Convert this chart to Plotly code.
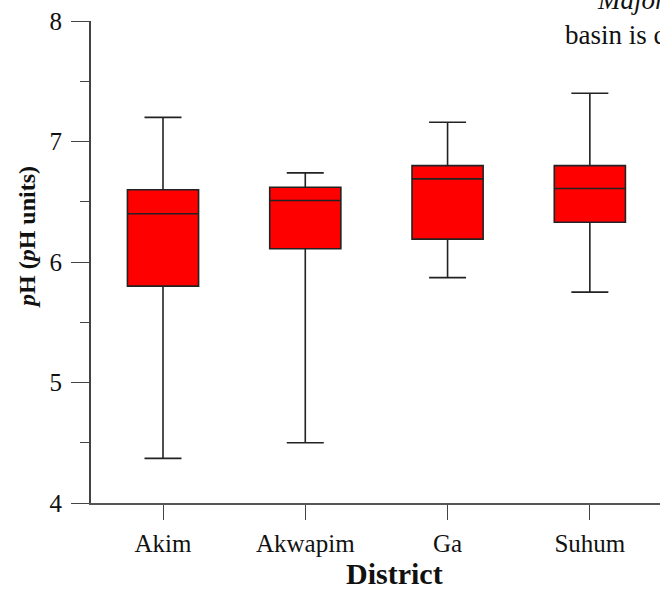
import plotly.graph_objects as go

districts = ["Akim", "Akwapim", "Ga", "Suhum"]
lower_whisker = [4.37, 4.50, 5.87, 5.75]
q1_vals = [5.80, 6.11, 6.19, 6.33]
median_vals = [6.40, 6.51, 6.69, 6.61]
q3_vals = [6.60, 6.62, 6.80, 6.80]
upper_whisker = [7.20, 6.74, 7.16, 7.40]
y_ticks = [4, 5, 6, 7, 8]

W, H = 660, 595
L, R, T, B = 91, 0, 21, 92
pw, ph = W - L - R, H - T - B

def px_x(px):
    return (px - L) / pw

def px_y(py):
    return (H - B - py) / ph

FONT = "Liberation Serif, Times New Roman, serif"

fig = go.Figure()
fig.add_trace(go.Box(
    x=districts,
    q1=q1_vals,
    median=median_vals,
    q3=q3_vals,
    lowerfence=lower_whisker,
    upperfence=upper_whisker,
    boxpoints=False,
    fillcolor="#ff0000",
    line=dict(color="#222222", width=1.6),
    width=0.5,
    whiskerwidth=0.52,
    showlegend=False,
    hoverinfo="skip",
))

fig.update_layout(
    width=W, height=H,
    margin=dict(l=L, r=R, t=T, b=B),
    paper_bgcolor="white",
    plot_bgcolor="white",
    font=dict(family=FONT, color="#111111"),
    xaxis=dict(
        type="category",
        range=[-0.506, 3.493],
        showgrid=False, zeroline=False,
        showline=True, linecolor="#555555", linewidth=1.5,
        ticks="outside", ticklen=15, tickcolor="#444444", tickwidth=1,
        tickfont=dict(family=FONT, size=25, color="#111111"),
        ticklabelstandoff=2,
    ),
    yaxis=dict(
        range=[4, 8],
        tickvals=y_ticks,
        ticktext=[str(v) for v in y_ticks],
        showgrid=False, zeroline=False,
        showline=True, linecolor="#444444", linewidth=2.2,
        ticks="outside", ticklen=18, tickcolor="#444444", tickwidth=1,
        minor=dict(dtick=0.5, ticks="outside", ticklen=9, tickcolor="#444444", tickwidth=1),
        tickfont=dict(family=FONT, size=25, color="#111111"),
        ticklabelstandoff=4,
    ),
    annotations=[
        dict(text="<b><i>p</i>H (<i>p</i>H units)</b>", textangle=-90,
             xref="paper", yref="paper", x=px_x(27), y=px_y(237),
             xanchor="center", yanchor="middle", showarrow=False,
             font=dict(family=FONT, size=24, color="#111111")),
        dict(text="<b>District</b>",
             xref="paper", yref="paper", x=px_x(394), y=px_y(573),
             xanchor="center", yanchor="middle", showarrow=False,
             font=dict(family=FONT, size=30, color="#111111")),
        dict(text="<i>Major</i>",
             xref="paper", yref="paper", x=px_x(595), y=px_y(0),
             xanchor="left", yanchor="middle", showarrow=False,
             font=dict(family=FONT, size=27, color="#111111")),
        dict(text="basin is c",
             xref="paper", yref="paper", x=px_x(563), y=px_y(35),
             xanchor="left", yanchor="middle", showarrow=False,
             font=dict(family=FONT, size=27, color="#111111")),
    ],
)

fig.write_html(
    "out.html",
    config={"displayModeBar": False},
    post_script="document.body.style.margin='0';document.body.style.overflow='hidden';",
)
